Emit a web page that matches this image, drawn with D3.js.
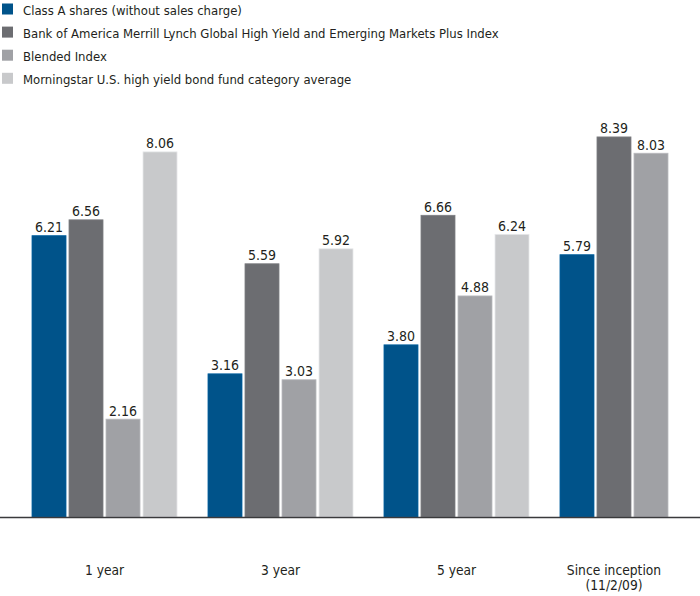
<!DOCTYPE html>
<html><head><meta charset="utf-8">
<script src="https://cdn.jsdelivr.net/npm/d3@7"></script>
<style>
html,body{margin:0;padding:0;background:#fff;}
svg{display:block;}
</style></head>
<body>
<svg id="chart" width="700" height="596"></svg>
<script>
const categories = ["1 year", "3 year", "5 year", "Since inception|(11/2/09)"];
const seriesNames = [
  "Class A shares (without sales charge)",
  "Bank of America Merrill Lynch Global High Yield and Emerging Markets Plus Index",
  "Blended Index",
  "Morningstar U.S. high yield bond fund category average"
];
const classA = [6.21, 3.16, 3.80, 5.79];
const bofaIndex = [6.56, 5.59, 6.66, 8.39];
const blended = [2.16, 3.03, 4.88, 8.03];
const morningstar = [8.06, 5.92, 6.24, null];
const seriesValues = [classA, bofaIndex, blended, morningstar];
const colors = ["#00538a", "#6c6d71", "#a0a1a5", "#c8c9cb"];

const FONT = "'DejaVu Sans Condensed', 'DejaVu Sans', sans-serif";
const svg = d3.select("#chart");
const baseline = 517;

const x0 = d3.scaleBand().domain(categories).range([32, 705]).paddingInner(0.176).paddingOuter(0);
const x1 = d3.scaleBand().domain(seriesNames).range([0, x0.bandwidth()]).paddingInner(0.081).paddingOuter(0);
const y = d3.scaleLinear().domain([0, 10]).range([baseline, baseline - 453]);

// legend
const legend = svg.append("g");
seriesNames.forEach((name, i) => {
  const g = legend.append("g").attr("transform", `translate(0,${i * 23.1})`);
  g.append("rect").attr("x", 2).attr("y", 3.5).attr("width", 11).attr("height", 11).attr("fill", colors[i]);
  g.append("text").attr("x", 23).attr("y", 14.5)
    .style("font-family", FONT)
    .style("font-size", "13px").attr("fill", "#231f20").text(name);
});

// bars
const groups = svg.append("g").selectAll("g").data(categories).join("g")
  .attr("transform", d => `translate(${x0(d)},0)`);

groups.each(function(cat, ci) {
  const g = d3.select(this);
  seriesNames.forEach((s, si) => {
    const v = seriesValues[si][ci];
    if (v == null) return;
    g.append("rect")
      .attr("x", x1(s)).attr("width", x1.bandwidth())
      .attr("y", y(v)).attr("height", baseline - y(v))
      .attr("fill", colors[si])
      .attr("stroke", d3.color(colors[si]).brighter(0.4))
      .attr("stroke-width", 0.8);
    g.append("text")
      .attr("x", x1(s) + x1.bandwidth() / 2).attr("y", y(v) - 3.5)
      .attr("text-anchor", "middle")
      .style("font-family", FONT)
      .style("font-size", "14px").attr("fill", "#231f20")
      .text(v.toFixed(2));
  });
});

// axis line
svg.append("line").attr("x1", 0).attr("x2", 700).attr("y1", baseline + 0.5).attr("y2", baseline + 0.5)
  .attr("stroke", "#3a3a3c").attr("stroke-width", 1.5);

// category labels, centred on the bars present in each group
const xAxis = d3.axisBottom(x0).tickSize(0).tickFormat(() => "");
const axG = svg.append("g").attr("transform", `translate(0,${baseline})`).call(xAxis);
axG.select(".domain").remove();
axG.selectAll(".tick").each(function(d) {
  const ci = categories.indexOf(d);
  const present = seriesNames.filter((s, si) => seriesValues[si][ci] != null);
  const left = x1(present[0]);
  const right = x1(present[present.length - 1]) + x1.bandwidth();
  const offset = (left + right) / 2 - x0.bandwidth() / 2;
  const t = d3.select(this).append("text")
    .attr("text-anchor", "middle")
    .style("font-family", FONT)
    .style("font-size", "13.7px").attr("fill", "#231f20");
  d.split("|").forEach((line, i) => {
    t.append("tspan").attr("x", offset).attr("y", 58 + i * 14.5).text(line);
  });
});
</script>
</body></html>
